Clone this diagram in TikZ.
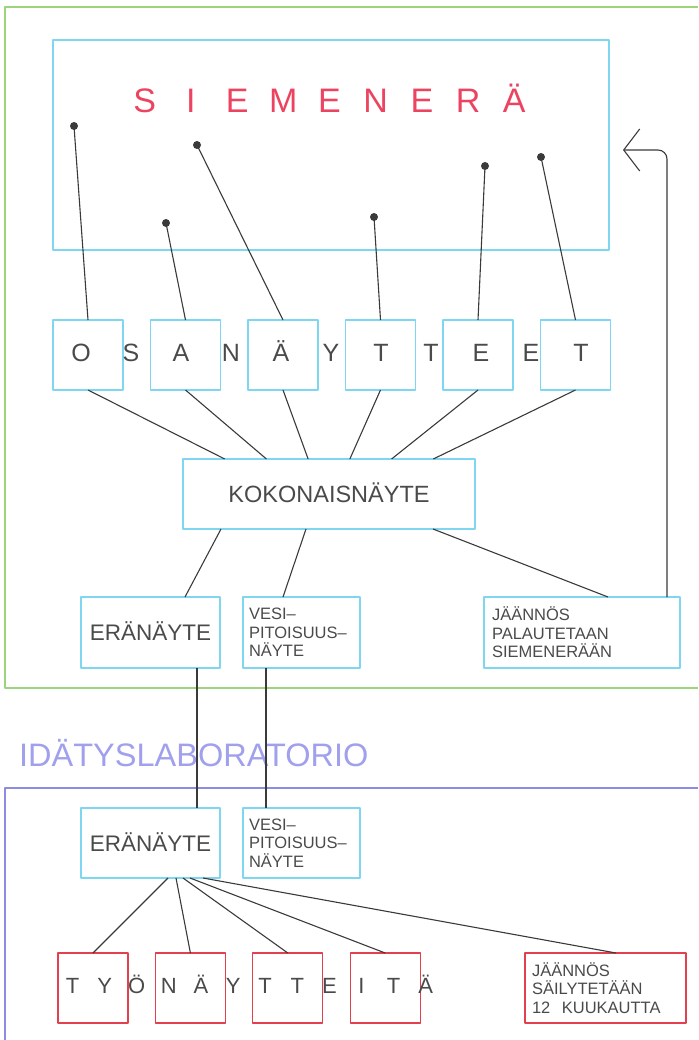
\documentclass[tikz,border=0pt]{standalone}
\usepackage{fontspec}
\setmainfont{Liberation Sans}
\usetikzlibrary{arrows.meta}
\definecolor{cy}{HTML}{7FD6F0}
\definecolor{rb}{HTML}{E2404C}
\definecolor{gr}{HTML}{9CD47C}
\definecolor{lv}{HTML}{8C8CE2}
\definecolor{lvt}{HTML}{A0A0EC}
\definecolor{tr}{HTML}{EC4460}
\definecolor{ln}{HTML}{3A3A3A}
\definecolor{tx}{HTML}{4A4A4A}
\begin{document}
\begin{tikzpicture}[x=1pt,y=-1pt,line join=round,
  cbox/.style={draw=cy,line width=1.3pt,inner sep=0pt,outer sep=0pt,anchor=north west,text=tx},
  rbox/.style={draw=rb,line width=1.3pt,inner sep=0pt,outer sep=0pt,anchor=north west,text=tx},
  conn/.style={draw=ln,line width=1.1pt},
  dotn/.style={circle,fill=ln,inner sep=0pt,minimum size=8pt},
  letter/.style={anchor=base,inner sep=0pt,text=tx},
  small/.style={font=\fontsize{16.5}{18.5}\selectfont,align=left},
  frame/.style={line width=1.2pt}]
\useasboundingbox (0,0) rectangle (698,1040);
% frames
\draw[frame,draw=gr] (698,7) -- (5,7) -- (5,688) -- (698,688);
\draw[frame,draw=lv] (698,788) -- (5,788) -- (5,1040);
% SIEMENERA box
\node[cbox,minimum width=556pt,minimum height=210pt] (sie) at (53,40) {};
\foreach \c [count=\k from 0] in {S,I,E,M,E,N,E,R,Ä}{
  \node[letter,text=tr,font=\fontsize{34}{34}\selectfont] (s\k) at (144.7+46.2*\k,112.5) {\c};
}
% osanaytteet boxes
\foreach \k in {1,...,6}{
  \node[cbox,minimum width=70pt,minimum height=70pt] (o\k) at (53+97.5*\k-97.5,320) {};
}
\foreach \c [count=\k from 0] in {O,S,A,N,Ä,Y,T,T,E,E,T}{
  \node[letter,font=\fontsize{25}{25}\selectfont] (ol\k) at (81+50*\k,361.5) {\c};
}
% dots
\node[dotn] (d1) at (74,126) {};
\node[dotn] (d2) at (166,223) {};
\node[dotn] (d3) at (197,145) {};
\node[dotn] (d4) at (374,217) {};
\node[dotn] (d5) at (485,166) {};
\node[dotn] (d6) at (541,157) {};
\foreach \k in {1,...,6}{\draw[conn] (d\k.center) -- (o\k.north);}
% kokonaisnayte
\node[cbox,minimum width=292pt,minimum height=70pt,font=\fontsize{23.5}{23.5}\selectfont,text height=17pt,text depth=0pt] (kok) at (183,459) {KOKONAISNÄYTE};
\foreach \k in {1,...,6}{
  \pgfmathsetmacro{\dx}{41.714*\k}
  \draw[conn] (o\k.south) -- ([xshift=\dx pt]kok.north west);
}
% upper row
\node[cbox,minimum width=139pt,minimum height=71pt,font=\fontsize{22.5}{22.5}\selectfont,text height=16pt,text depth=0pt] (era1) at (81,597) {ERÄNÄYTE};
\node[cbox,small,text width=105pt,inner xsep=6pt,minimum height=71pt] (ves1) at (243,597) {VESI–\\PITOISUUS–\\NÄYTE};
\node[cbox,small,text width=180pt,inner xsep=8pt,minimum height=71pt] (jr1) at (484,597) {JÄÄNNÖS\\PALAUTETAAN\\SIEMENERÄÄN};
\draw[conn] ([xshift=38pt]kok.south west) -- ([xshift=34.5pt]era1.north);
\draw[conn] ([xshift=123pt]kok.south west) -- ([xshift=-18.5pt]ves1.north);
\draw[conn] ([xshift=250pt]kok.south west) -- ([xshift=124pt]jr1.north west);
% return arrow
\coordinate (tip) at (623,150);
\draw[conn,rounded corners=9pt,-{Straight Barb[length=16pt,width=42pt,line width=1.1pt]}] ([xshift=-13pt]jr1.north east) |- (tip);
% laboratory title
\node[anchor=base west,inner sep=0pt,text=lvt,font=\fontsize{32.5}{32.5}\selectfont] (lab) at (19,766.5) {IDÄTYSLABORATORIO};
% lower row
\node[cbox,minimum width=139pt,minimum height=70pt,font=\fontsize{22.5}{22.5}\selectfont,text height=16pt,text depth=0pt] (era2) at (81,808) {ERÄNÄYTE};
\node[cbox,small,text width=105pt,inner xsep=6pt,minimum height=70pt] (ves2) at (243,808) {VESI–\\PITOISUUS–\\NÄYTE};
\draw[conn] ([xshift=46.5pt]era1.south) -- ([xshift=46.5pt]era2.north);
\draw[conn] ([xshift=-35.5pt]ves1.south) -- ([xshift=-35.5pt]ves2.north);
% tyonaytteita
\foreach \k in {1,...,4}{
  \node[rbox,minimum width=70pt,minimum height=70pt] (r\k) at (58+97.4*\k-97.4,953) {};
}
\node[rbox,small,text width=147pt,inner xsep=7pt,minimum height=70pt] (rj) at (525,953) {JÄÄNNÖS\\SÄILYTETÄÄN\\12\hspace{6pt} KUUKAUTTA};
\foreach \c [count=\k from 0] in {T,Y,Ö,N,Ä,Y,T,T,E,I,T,Ä}{
  \node[letter,font=\fontsize{22}{22}\selectfont] (tl\k) at (72.6+32.1*\k,993) {\c};
}
\draw[conn] ([xshift=17.5pt]era2.south) -- (r1.north);
\draw[conn] ([xshift=25.5pt]era2.south) -- (r2.north);
\draw[conn] ([xshift=32.5pt]era2.south) -- (r3.north);
\draw[conn] ([xshift=39.5pt]era2.south) -- (r4.north);
\draw[conn] ([xshift=52.5pt]era2.south) -- ([xshift=91pt]rj.north west);
\end{tikzpicture}
\end{document}
